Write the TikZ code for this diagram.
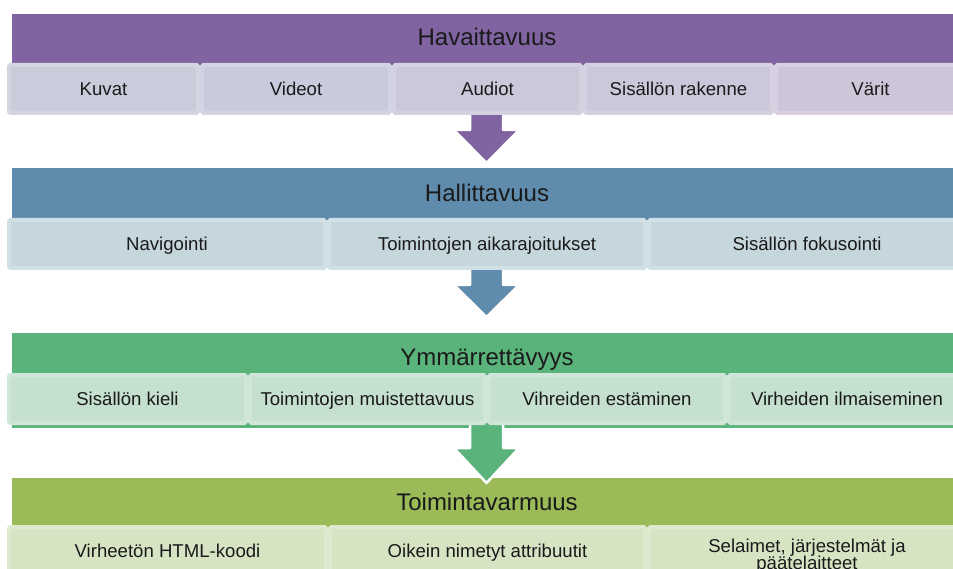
\documentclass[tikz,border=0pt]{standalone}
\usepackage{fontspec}
\setmainfont{Liberation Sans}
\definecolor{bandA}{HTML}{8064A2}
\definecolor{bandB}{HTML}{5F8BAC}
\definecolor{bandC}{HTML}{5BB37C}
\definecolor{bandD}{HTML}{9BBB59}
\definecolor{fA1}{HTML}{C9CCDB}\definecolor{dA1}{HTML}{D3D6E1}
\definecolor{fA2}{HTML}{C9CADB}\definecolor{dA2}{HTML}{D3D4E1}
\definecolor{fA3}{HTML}{CBC8DA}\definecolor{dA3}{HTML}{D4D2E0}
\definecolor{fA4}{HTML}{CCC7DA}\definecolor{dA4}{HTML}{D5D1E0}
\definecolor{fA5}{HTML}{CFC5D9}\definecolor{dA5}{HTML}{D8D0E0}
\definecolor{fB}{HTML}{C5D7DD}\definecolor{dB}{HTML}{D0E0E4}
\definecolor{fC}{HTML}{C5E0CF}\definecolor{dC}{HTML}{D0E6D9}
\definecolor{fD}{HTML}{D7E4C4}\definecolor{dD}{HTML}{DEE9D0}
\definecolor{ink}{HTML}{1A1A1A}
\tikzset{
  cell/.style n args={2}{rectangle, fill=#1, draw=#2, line width=4pt,
    rounded corners=1.5pt, inner sep=0pt, text height=13pt, text depth=0pt,
    font=\fontsize{18.6}{18}\selectfont, text=ink},
  titletext/.style={anchor=base, inner sep=0pt, font=\fontsize{24}{28}\selectfont, text=ink},
  celltext/.style={inner sep=0pt, align=center, font=\fontsize{18.6}{17.5}\selectfont, text=ink},
  bandbox/.style={fill=#1, draw=none},
  blockarrow/.style={fill=#1, draw=white, line width=2.5pt, line join=round}
}
\newcommand\blkarrow[4]{%
  \filldraw[blockarrow=#1] (470,#2) -- (470,#3) -- (454,#3) -- (486.5,#4)
    -- (519,#3) -- (503,#3) -- (503,#2) -- cycle;}
\begin{document}
\begin{tikzpicture}[x=1pt,y=-1pt]
\useasboundingbox (0,0) rectangle (953,569);
\clip (0,0) rectangle (953,569);
% bands
\path[bandbox=bandA] (12,14) rectangle (975,112);
\path[bandbox=bandB] (12,168) rectangle (975,267);
\path[bandbox=bandC] (12,333) rectangle (975,428);
\path[bandbox=bandD] (12,478) rectangle (975,590);
% arrows
\blkarrow{bandA}{110}{130}{163}
\blkarrow{bandB}{265}{285}{317}
\blkarrow{bandC}{420}{448}{483}
% titles
\node[titletext] (t1) at (487,46) {Havaittavuus};
\node[titletext] (t2) at (487,201.5) {Hallittavuus};
\node[titletext] (t3) at (487,365) {Ymmärrettävyys};
\node[titletext] (t4) at (487,510) {Toimintavarmuus};
% row 1
\node[cell={fA1}{dA1}, minimum width=189pt, minimum height=48pt] (a1) at (103.5,89) {Kuvat};
\node[cell={fA2}{dA2}, minimum width=188pt, minimum height=48pt] (a2) at (296,89) {Videot};
\node[cell={fA3}{dA3}, minimum width=187pt, minimum height=48pt] (a3) at (487.5,89) {Audiot};
\node[cell={fA4}{dA4}, minimum width=187pt, minimum height=48pt] (a4) at (678.5,89) {Sisällön rakenne};
\node[cell={fA5}{dA5}, minimum width=189pt, minimum height=48pt] (a5) at (870.5,89) {Värit};
% row 2
\node[cell={fB}{dB}, minimum width=316pt, minimum height=48pt] (b1) at (167,244) {Navigointi};
\node[cell={fB}{dB}, minimum width=316pt, minimum height=48pt] (b2) at (487,244) {Toimintojen aikarajoitukset};
\node[cell={fB}{dB}, minimum width=316pt, minimum height=48pt] (b3) at (807,244) {Sisällön fokusointi};
% row 3
\node[cell={fC}{dC}, minimum width=237pt, minimum height=48pt] (c1) at (127.5,399) {Sisällön kieli};
\node[cell={fC}{dC}, minimum width=235pt, minimum height=48pt] (c2) at (367.5,399) {Toimintojen muistettavuus};
\node[cell={fC}{dC}, minimum width=236pt, minimum height=48pt] (c3) at (607,399) {Vihreiden estäminen};
\node[cell={fC}{dC}, minimum width=236pt, minimum height=48pt] (c4) at (847,399) {Virheiden ilmaiseminen};
% row 4
\node[cell={fD}{dD}, minimum width=317pt, minimum height=48pt] (d1) at (167.5,551) {Virheetön HTML-koodi};
\node[cell={fD}{dD}, minimum width=315pt, minimum height=48pt] (d2) at (487.5,551) {Oikein nimetyt attribuutit};
\node[cell={fD}{dD}, minimum width=316pt, minimum height=48pt] (d3) at (807,551) {};
\node[celltext] (d3t) at (807,556) {Selaimet, järjestelmät ja\\päätelaitteet};
\end{tikzpicture}
\end{document}
